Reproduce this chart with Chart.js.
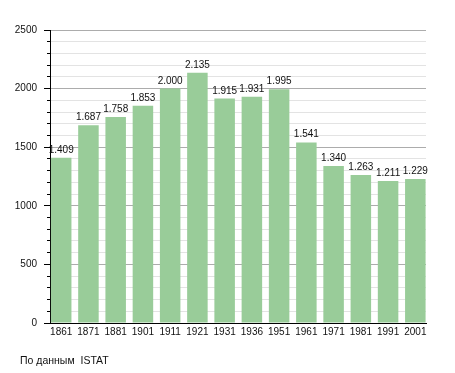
<!DOCTYPE html>
<html>
<head>
<meta charset="utf-8">
<script src="https://cdn.jsdelivr.net/npm/chart.js@4/dist/chart.umd.min.js"></script>
<style>
  html, body { margin: 0; padding: 0; background: #fff; }
  #wrap { position: relative; width: 455px; height: 373px; }
  #src { position: absolute; left: 20px; top: 354px; font: 10.5px "Liberation Sans", Arial, sans-serif; color: #111; white-space: pre; }
</style>
</head>
<body>
<div id="wrap">
  <canvas id="c" width="455" height="373"></canvas>
  <div id="src">По данным  ISTAT</div>
</div>
<script>
const years = ['1861','1871','1881','1901','1911','1921','1931','1936','1951','1961','1971','1981','1991','2001'];
const population = [1409,1687,1758,1853,2000,2135,1915,1931,1995,1541,1340,1263,1211,1229];
const yTickLabels = [0, 500, 1000, 1500, 2000, 2500];

const FONT = '"Liberation Sans", Arial, sans-serif';

function fmt(v) {
  const s = String(v);
  return s.replace(/\B(?=(\d{3})+(?!\d))/g, '.');
}

const valueLabels = {
  id: 'valueLabels',
  afterDatasetsDraw(chart) {
    const ctx = chart.ctx;
    const meta = chart.getDatasetMeta(0);
    ctx.save();
    ctx.font = '10px ' + FONT;
    ctx.fillStyle = '#111';
    ctx.textAlign = 'center';
    ctx.textBaseline = 'alphabetic';
    meta.data.forEach((bar, i) => {
      ctx.fillText(fmt(population[i]), bar.x, bar.y - 5);
    });
    ctx.restore();
  }
};

new Chart(document.getElementById('c'), {
  type: 'bar',
  data: {
    datasets: [{
      data: population.map((v, i) => ({ x: i, y: v })),
      backgroundColor: '#99cc99',
      borderWidth: 0,
      categoryPercentage: 1,
      barPercentage: 0.753
    }]
  },
  options: {
    responsive: false,
    devicePixelRatio: 1,
    animation: false,
    layout: { padding: { top: 30, right: 29, bottom: 0, left: 0 } },
    plugins: { legend: { display: false }, tooltip: { enabled: false } },
    scales: {
      x: {
        type: 'linear',
        offset: false,
        min: -0.411,
        max: 13.392,
        afterBuildTicks: (scale) => { scale.ticks = years.map((_, i) => ({ value: i })); },
        afterFit: (scale) => { scale.height = 50; },
        grid: { display: true, offset: false, drawOnChartArea: false, drawTicks: false },
        border: { display: true, color: '#000', width: 1 },
        ticks: {
          autoSkip: false,
          maxRotation: 0,
          padding: 3,
          color: '#111',
          font: { family: FONT, size: 10 },
          callback: (v) => years[v]
        }
      },
      y: {
        min: 0,
        max: 2500,
        afterFit: (scale) => { scale.width = 50; },
        border: { display: true, color: '#000', width: 1 },
        grid: {
          color: (c) => (c.tick && yTickLabels.includes(c.tick.value)) ? '#acacac' : '#e3e3e3',
          tickColor: '#000',
          tickLength: 6,
          tickBorderDash: (c) => (c.tick && yTickLabels.includes(c.tick.value)) ? [] : [3, 3],
          tickBorderDashOffset: (c) => (c.tick && yTickLabels.includes(c.tick.value)) ? 0 : 3
        },
        ticks: {
          stepSize: 100,
          autoSkip: false,
          padding: 7,
          color: '#111',
          font: { family: FONT, size: 10 },
          callback: (v) => yTickLabels.includes(v) ? String(v) : ''
        }
      }
    }
  },
  plugins: [valueLabels]
});
</script>
</body>
</html>
